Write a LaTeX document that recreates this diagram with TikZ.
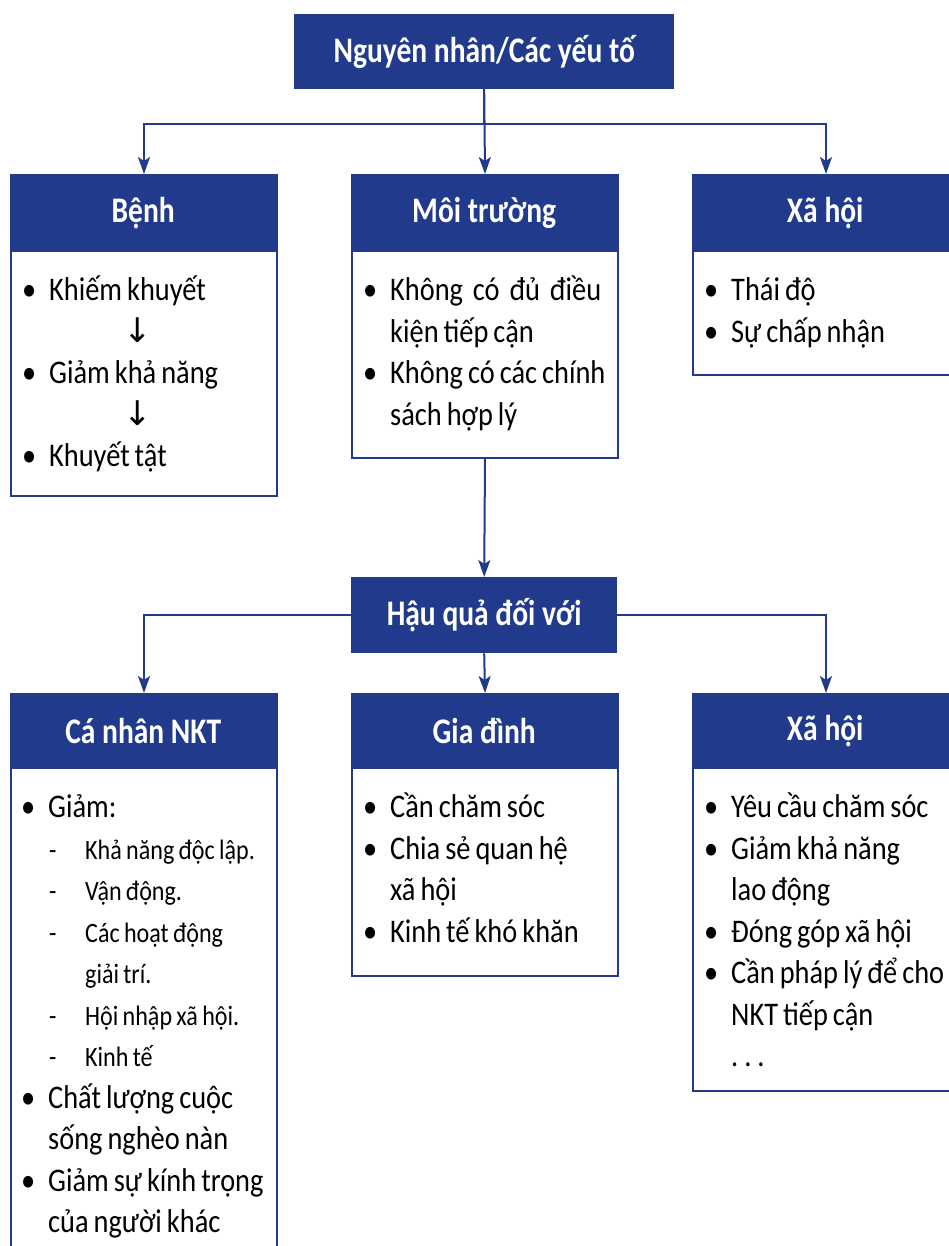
\documentclass[tikz,border=0pt]{standalone}
\usepackage{fontspec}
\setmainfont[FakeStretch=0.86]{Carlito}
\newfontfamily\headfont[FakeStretch=0.82]{Carlito}
\newfontfamily\arrowfont{DejaVu Sans}
\usetikzlibrary{arrows.meta}
\definecolor{nkblue}{RGB}{33,58,140}

\newcommand\bodysize{\fontsize{33}{41.5}\selectfont\setlength{\parskip}{0pt}}
\newcommand\bodyspace{\spaceskip=5pt plus 2pt minus 1pt\relax}
\newcommand\subsize{\fontsize{28}{41.5}\selectfont\spaceskip=4.3pt plus 2pt minus 1pt\relax}
\newcommand\headsize{\headfont\fontsize{36}{40}\selectfont}
\newcommand\lnstrut{\rule{0pt}{32pt}}
% one printed line each
\newcommand\bul[1]{\par\noindent\bodyspace\lnstrut\hbox to 27pt{\textbullet\hfil}\hbox{#1}}
\newcommand\contline[1]{\par\noindent\bodyspace\lnstrut\hspace*{27pt}\hbox{#1}}
\newcommand\subitm[1]{\par\noindent\lnstrut{\subsize\hbox to 64pt{\hspace*{28pt}-\hfil}\hbox{#1}}}
\newcommand\subcont[1]{\par\noindent\lnstrut{\subsize\hspace*{64pt}\hbox{#1}}}
\newcommand\downline{\par\noindent\lnstrut\hspace*{101pt}{\arrowfont\fontsize{34}{41}\selectfont ↓}}

\begin{document}
\begin{tikzpicture}[x=1pt,y=-1pt,
    frame/.style={draw=nkblue, line width=2pt, fill=white, anchor=north west,
      inner sep=0pt, minimum width=266pt},
    head/.style={fill=nkblue, text=white, font=\headsize\bfseries, anchor=north west,
      inner sep=0pt, minimum width=266pt},
    body/.style={anchor=north west, inner sep=0pt, text width=300pt, font=\bodysize},
    link/.style={draw=nkblue, line width=2pt, -{Stealth[length=17pt,width=12pt,inset=4pt]}}
]
\useasboundingbox (0,0) rectangle (949,1246);
\clip (0,0) rectangle (949,1246);

% causes
\node[head, minimum width=380pt, minimum height=75pt] (root) at (294,14) {Nguyên nhân/Các yếu tố};

\node[frame, minimum height=321pt] (benh) at (10,174) {};
\node[head, minimum height=78pt] (benhhd) at (benh.north west) {Bệnh};
\node[body] (benhtx) at (22,259) {%
  \bul{Khiếm khuyết}
  \downline
  \bul{Giảm khả năng}
  \downline
  \bul{Khuyết tật}};

\node[frame, minimum height=283pt] (moi) at (351,174) {};
\node[head, minimum height=78pt] (moihd) at (moi.north west) {Môi trường};
\node[body] (moitx) at (363,259) {%
  \bul{\hbox to 211pt{Không\hfil có\hfil đủ\hfil điều}}
  \contline{kiện tiếp cận}
  \bul{Không có các chính}
  \contline{sách hợp lý}};

\node[frame, minimum height=200pt] (xh1) at (692,174) {};
\node[head, minimum height=78pt] (xh1hd) at (xh1.north west) {Xã hội};
\node[body] (xh1tx) at (704,259) {%
  \bul{Thái độ}
  \bul{Sự chấp nhận}};

% consequences
\node[head, minimum height=76pt] (hau) at (351,577) {Hậu quả đối với};

\node[frame, minimum height=600pt] (canhan) at (10,693) {};
\node[head, minimum height=76pt] (canhanhd) at (canhan.north west) {Cá nhân NKT};
\node[body] (canhantx) at (21,776) {%
  \bul{Giảm:}
  \subitm{Khả năng độc lập.}
  \subitm{Vận động.}
  \subitm{Các hoạt động}
  \subcont{giải trí.}
  \subitm{Hội nhập xã hội.}
  \subitm{Kinh tế}
  \bul{Chất lượng cuộc}
  \contline{sống nghèo nàn}
  \bul{Giảm sự kính trọng}
  \contline{của người khác}};

\node[frame, minimum height=282pt] (gia) at (351,693) {};
\node[head, minimum height=76pt] (giahd) at (gia.north west) {Gia đình};
\node[body] (giatx) at (363,776) {%
  \bul{Cần chăm sóc}
  \bul{Chia sẻ quan hệ}
  \contline{xã hội}
  \bul{Kinh tế khó khăn}};

\node[frame, minimum height=397pt] (xh2) at (692,693) {};
\node[head, minimum height=76pt] (xh2hd) at (xh2.north west) {Xã hội};
\node[body] (xh2tx) at (704,776) {%
  \bul{Yêu cầu chăm sóc}
  \bul{Giảm khả năng}
  \contline{lao động}
  \bul{Đóng góp xã hội}
  \bul{Cần pháp lý để cho}
  \contline{NKT tiếp cận}
  \contline{.\hspace{6pt}.\hspace{6pt}.}};

% connectors
\draw[link] (root.south) -- ++(0,35) -| (benh.north);
\draw[link] (root.south) -- ++(0,35) -| (xh1.north);
\draw[link] (root.south) -- (moi.north);
\draw[link] (moi.south) -- (hau.north);
\draw[link] (hau.west) -| (canhan.north);
\draw[link] (hau.east) -| (xh2.north);
\draw[link] (hau.south) -- (gia.north);
\end{tikzpicture}
\end{document}
